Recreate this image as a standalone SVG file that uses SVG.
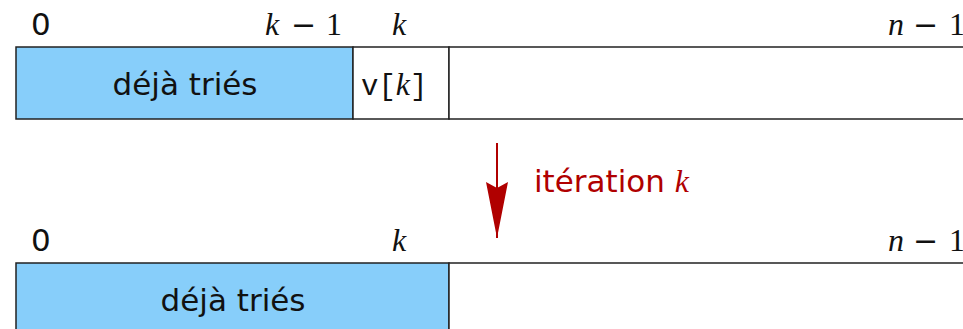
<svg xmlns="http://www.w3.org/2000/svg" width="963" height="329" viewBox="0 0 963 329">
<style>
.cell{stroke:#222;stroke-width:1.5}
.sorted{fill:#87cefa}
.empty{fill:#fff}
.lbl{font-family:"DejaVu Sans",sans-serif;font-size:31px;fill:#111}
.math{font-family:"Liberation Serif",serif;font-size:32px;font-style:italic;fill:#111}
.num{font-family:"Liberation Serif",serif;font-size:32px;fill:#111}
.minus{font-family:"DejaVu Sans",sans-serif;font-size:30px;fill:#111}
.mono{font-family:"Liberation Mono",monospace;font-size:29px;fill:#111}
.red{fill:#b00000}
</style>
<defs>
<marker id="ah" viewBox="0 0 56 22" refX="56" refY="11" markerWidth="56" markerHeight="22" markerUnits="userSpaceOnUse" orient="auto">
<path d="M0,0 L6,11 L0,22 L56,11 Z" fill="#b00000"/>
</marker>
</defs>
<g id="row1">
<rect class="cell sorted" x="16" y="47" width="337" height="72"/>
<rect class="cell empty" x="353" y="47" width="96" height="72"/>
<rect class="cell empty" x="449" y="47" width="530" height="72"/>
<text class="lbl" x="185" y="95" text-anchor="middle">déjà triés</text>
<text x="361" y="95"><tspan class="mono">v[</tspan><tspan class="math">k</tspan><tspan class="mono">]</tspan></text>
<text class="lbl" x="31" y="35">0</text>
<text y="35"><tspan class="math" x="265">k</tspan><tspan class="minus" x="291">−</tspan><tspan class="num" x="326">1</tspan></text>
<text class="math" x="392" y="35">k</text>
<text y="35"><tspan class="math" x="888">n</tspan><tspan class="minus" x="913">−</tspan><tspan class="num" x="949">1</tspan></text>
</g>
<g id="row2">
<rect class="cell sorted" x="16" y="263" width="433" height="80"/>
<rect class="cell empty" x="449" y="263" width="530" height="80"/>
<text class="lbl" x="233" y="311" text-anchor="middle">déjà triés</text>
<text class="lbl" x="31" y="251">0</text>
<text class="math" x="392" y="251">k</text>
<text y="251"><tspan class="math" x="888">n</tspan><tspan class="minus" x="913">−</tspan><tspan class="num" x="949">1</tspan></text>
</g>
<g id="connectors">
<line x1="497" y1="143" x2="497" y2="238" stroke="#b00000" stroke-width="2" marker-end="url(#ah)"/>
<text x="534" y="192"><tspan class="lbl red">itération </tspan><tspan class="math red">k</tspan></text>
</g>
</svg>
